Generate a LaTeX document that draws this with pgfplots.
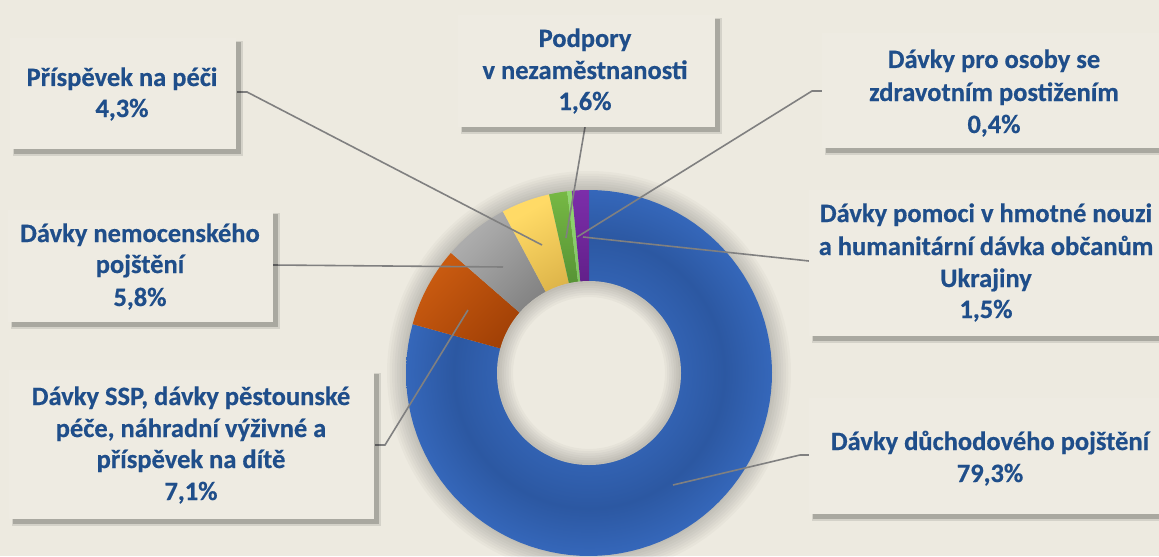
\documentclass[border=0pt]{standalone}
\usepackage{fontspec}
\setmainfont{Carlito}[BoldFont={Carlito Bold}, BoldFeatures={FakeBold=0.5}]
\usepackage{pgfplots}
\pgfplotsset{compat=1.18}
\usepackage{pgfplotstable}

\definecolor{bg}{RGB}{237,234,224}
\definecolor{boxfill}{RGB}{238,235,226}
\definecolor{txt}{RGB}{31,78,138}
\definecolor{leader}{RGB}{128,128,128}

\pgfdeclareradialshading{bluering}{\pgfpoint{0bp}{0bp}}{%
  color(0bp)=(rgb,255:red,50;green,98;blue,178);
  color(12.6bp)=(rgb,255:red,50;green,98;blue,178);
  color(18.5bp)=(rgb,255:red,44;green,88;blue,162);
  color(25bp)=(rgb,255:red,53;green,103;blue,186);
  color(50bp)=(rgb,255:red,53;green,103;blue,186)}

\pgfplotsset{
  slice0/.style={shade, shading=bluering},
  slice1/.style={top color={rgb,255:red,200;green,90;blue,16}, bottom color={rgb,255:red,140;green,50;blue,0}, shading angle=45},
  slice2/.style={top color={rgb,255:red,172;green,172;blue,172}, bottom color={rgb,255:red,104;green,104;blue,104}, shading angle=45},
  slice3/.style={top color={rgb,255:red,255;green,218;blue,102}, bottom color={rgb,255:red,196;green,152;blue,52}, shading angle=30},
  slice4/.style={top color={rgb,255:red,118;green,184;blue,68}, bottom color={rgb,255:red,56;green,112;blue,38}},
  slice5/.style={top color={rgb,255:red,146;green,216;blue,112}, bottom color={rgb,255:red,110;green,180;blue,86}},
  slice6/.style={top color={rgb,255:red,124;green,46;blue,170}, bottom color={rgb,255:red,72;green,18;blue,106}},
}

% shares in percent, clockwise from 12 o'clock
\pgfplotstableread{
id value
0 79.3
1 7.1
2 5.8
3 4.3
4 1.6
5 0.4
6 1.5
}\shares

\newcommand{\lbl}[3]{\node[anchor=base, text=txt, font=\fontsize{26.6}{32}\selectfont\bfseries, inner sep=0pt] at (axis cs:#1,#2) {#3};}
\newcommand{\bx}[4]{%
  \fill[black, opacity=0.10] (axis cs:#1+3,#2+3) rectangle (axis cs:#3+7,#4+7);
  \fill[black, opacity=0.20] (axis cs:#1+4,#2+4) rectangle (axis cs:#3+5,#4+5);
  \fill[boxfill] (axis cs:#1,#2) rectangle (axis cs:#3,#4);}

\begin{document}
\begin{tikzpicture}
\begin{axis}[
  scale only axis, width=1159bp, height=556bp,
  xmin=0, xmax=1159, ymin=0, ymax=556, y dir=reverse,
  hide axis, clip=false,
]
\fill[bg] (axis cs:0,0) rectangle (axis cs:1159,556);

% soft shadow around the ring
\pgfplotsinvokeforeach{1,...,8}{
  \fill[black, opacity=0.022] (axis cs:589,373) circle[radius={(182+#1*2.5)*1bp}];
}

% slices
\pgfmathsetmacro\start{90}
\pgfplotsforeachungrouped \i in {0,...,6}{
  \pgfplotstablegetelem{\i}{value}\of\shares
  \pgfmathsetmacro\stop{\start-3.6*\pgfplotsretval}
  \edef\temp{\noexpand\addplot[slice\i, draw=none, domain=\stop:\start, samples=90]
    ({589+183*cos(x)},{373-183*sin(x)}) -- (axis cs:589,373) -- cycle;}
  \temp
  \global\let\start\stop
}

% hole
\fill[bg] (axis cs:589,373) circle[radius=92bp];
\pgfplotsinvokeforeach{1,...,7}{
  \fill[black, opacity=0.028, even odd rule] (axis cs:589,373) circle[radius=92bp]
     (axis cs:589,373) circle[radius={(92-#1*2.3)*1bp}];
}

% leader lines
\addplot[leader, line width=1.6pt] coordinates {(237,92) (247,92) (542,245)};
\addplot[leader, line width=1.6pt] coordinates {(585,127) (566,238)};
\addplot[leader, line width=1.6pt] coordinates {(822,91) (812,91) (577,237)};
\addplot[leader, line width=1.6pt] coordinates {(809,261) (800,260) (583,237)};
\addplot[leader, line width=1.6pt] coordinates {(809,455) (800,455) (673,485)};
\addplot[leader, line width=1.6pt] coordinates {(375,445) (385,445) (468,310)};
\addplot[leader, line width=1.6pt] coordinates {(273,265) (503,267)};

% label boxes
\bx{10}{38}{236}{149}
\bx{458}{15}{715}{127}
\bx{822}{33}{1175}{148}
\bx{809}{190}{1175}{336}
\bx{809}{398}{1175}{514}
\bx{9}{370}{374}{519}
\bx{8}{210}{273}{322}

\lbl{122}{86}{Příspěvek na péči}
\lbl{122}{117}{4,3\%}

\lbl{585}{47}{Podpory}
\lbl{585}{79}{v nezaměstnanosti}
\lbl{585}{110}{1,6\%}

\lbl{994}{68}{Dávky pro osoby se}
\lbl{994}{101}{zdravotním postižením}
\lbl{994}{133}{0,4\%}

\lbl{986}{222}{Dávky pomoci v hmotné nouzi}
\lbl{986}{255}{a humanitární dávka občanům}
\lbl{986}{287}{Ukrajiny}
\lbl{986}{318}{1,5\%}

\lbl{990}{450}{Dávky důchodového pojštění}
\lbl{990}{482}{79,3\%}

\lbl{191}{405}{Dávky SSP, dávky pěstounské}
\lbl{191}{437}{péče, náhradní výživné a}
\lbl{191}{468}{příspěvek na dítě}
\lbl{191}{500}{7,1\%}

\lbl{140}{242}{Dávky nemocenského}
\lbl{140}{273}{pojštění}
\lbl{140}{306}{5,8\%}
\end{axis}
\pgfresetboundingbox
\path[use as bounding box] (current axis.south west) rectangle (current axis.north east);
\end{tikzpicture}
\end{document}
